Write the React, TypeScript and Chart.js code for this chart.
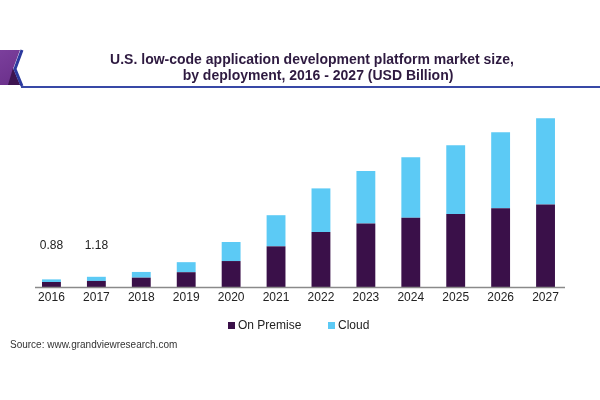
import React, { useEffect, useRef } from "react";
import { Chart, registerables } from "chart.js";

Chart.register(...registerables);

const years = ["2016", "2017", "2018", "2019", "2020", "2021", "2022", "2023", "2024", "2025", "2026", "2027"];
const onPremise = [0.58, 0.7, 1.08, 1.71, 3.0, 4.7, 6.35, 7.35, 8.0, 8.45, 9.1, 9.55];
const cloud = [0.3, 0.48, 0.66, 1.16, 2.2, 3.6, 5.05, 6.05, 7.0, 7.95, 8.8, 9.95];
const labelledTotals = ["0.88", "1.18"];

const titleLines = [
  "U.S. low-code application development platform market size,",
  "by deployment, 2016 - 2027 (USD Billion)",
];
const sourceText = "Source: www.grandviewresearch.com";
const premiseColor = "#3a1049";
const cloudColor = "#5ccaf5";
const FONT = '"Liberation Sans", Arial, sans-serif';

const decorPlugin = {
  id: "decor",
  beforeDraw(chart: any) {
    const ctx = chart.ctx;
    ctx.save();
    ctx.fillStyle = "#ffffff";
    ctx.fillRect(0, 0, chart.width, chart.height);

    const g = ctx.createLinearGradient(0, 50, 20, 84);
    g.addColorStop(0, "#7b3f9c");
    g.addColorStop(1, "#6a2f8a");
    ctx.fillStyle = g;
    ctx.beginPath();
    ctx.moveTo(0, 50);
    ctx.lineTo(20, 50);
    ctx.lineTo(13, 69);
    ctx.lineTo(20, 85);
    ctx.lineTo(0, 85);
    ctx.closePath();
    ctx.fill();
    ctx.fillStyle = "#3d1450";
    ctx.beginPath();
    ctx.moveTo(13, 68);
    ctx.lineTo(8, 85);
    ctx.lineTo(20, 85);
    ctx.closePath();
    ctx.fill();
    ctx.strokeStyle = "#2c3a9e";
    ctx.lineWidth = 3;
    ctx.beginPath();
    ctx.moveTo(22, 50);
    ctx.lineTo(15, 69);
    ctx.lineTo(22, 86);
    ctx.stroke();
    ctx.lineWidth = 2;
    ctx.strokeStyle = "#3848a6";
    ctx.beginPath();
    ctx.moveTo(21, 87);
    ctx.lineTo(600, 87);
    ctx.stroke();

    ctx.fillStyle = "#2e1a40";
    ctx.font = `bold 14px ${FONT}`;
    ctx.textAlign = "center";
    ctx.textBaseline = "middle";
    ctx.fillText(titleLines[0], 312, 60);
    ctx.fillText(titleLines[1], 318, 76);
    ctx.restore();
  },
  afterDraw(chart: any) {
    const ctx = chart.ctx;
    const xs = chart.scales.x;
    const base = chart.chartArea.bottom;
    ctx.save();
    // axis line
    ctx.strokeStyle = "#8a8a8a";
    ctx.lineWidth = 1.5;
    ctx.beginPath();
    ctx.moveTo(35, base + 0.5);
    ctx.lineTo(565, base + 0.5);
    ctx.stroke();

    ctx.font = `12px ${FONT}`;
    ctx.fillStyle = "#222222";
    ctx.textAlign = "center";
    ctx.textBaseline = "middle";
    labelledTotals.forEach((t, i) => {
      ctx.fillText(t, xs.getPixelForValue(i), 246);
    });

    ctx.textAlign = "left";
    ctx.fillStyle = premiseColor;
    ctx.fillRect(228, 322, 7, 7);
    ctx.fillStyle = cloudColor;
    ctx.fillRect(328, 322, 7, 7);
    ctx.fillStyle = "#222222";
    ctx.fillText("On Premise", 238, 326);
    ctx.fillText("Cloud", 338, 326);

    ctx.font = `10px ${FONT}`;
    ctx.fillStyle = "#333333";
    ctx.fillText(sourceText, 10, 345);
    ctx.restore();
  },
};

export default function App() {
  const ref = useRef<HTMLCanvasElement | null>(null);
  useEffect(() => {
    if (!ref.current) return;
    const chart = new Chart(ref.current, {
      type: "bar",
      data: {
        labels: years,
        datasets: [
          { label: "On Premise", data: onPremise, backgroundColor: premiseColor, barPercentage: 0.42, categoryPercentage: 1 },
          { label: "Cloud", data: cloud, backgroundColor: cloudColor, barPercentage: 0.42, categoryPercentage: 1 },
        ],
      },
      options: {
        responsive: false,
        animation: false,
        layout: { padding: { left: 29, right: 32, top: 114, bottom: 92.6 } },
        plugins: { legend: { display: false }, tooltip: { enabled: false }, title: { display: false } },
        scales: {
          x: {
            stacked: true,
            grid: { display: false, drawTicks: false },
            border: { display: false },
            ticks: { color: "#222222", font: { family: FONT, size: 12 }, padding: 3, maxRotation: 0 },
          },
          y: { stacked: true, display: false, min: 0, max: 20 },
        },
      },
      plugins: [decorPlugin],
    });
    return () => chart.destroy();
  }, []);
  return (
    <div style={{ position: "fixed", left: 0, top: 0, width: 600, height: 400, background: "#fff" }}>
      <canvas ref={ref} width={600} height={400} style={{ display: "block" }} />
    </div>
  );
}
